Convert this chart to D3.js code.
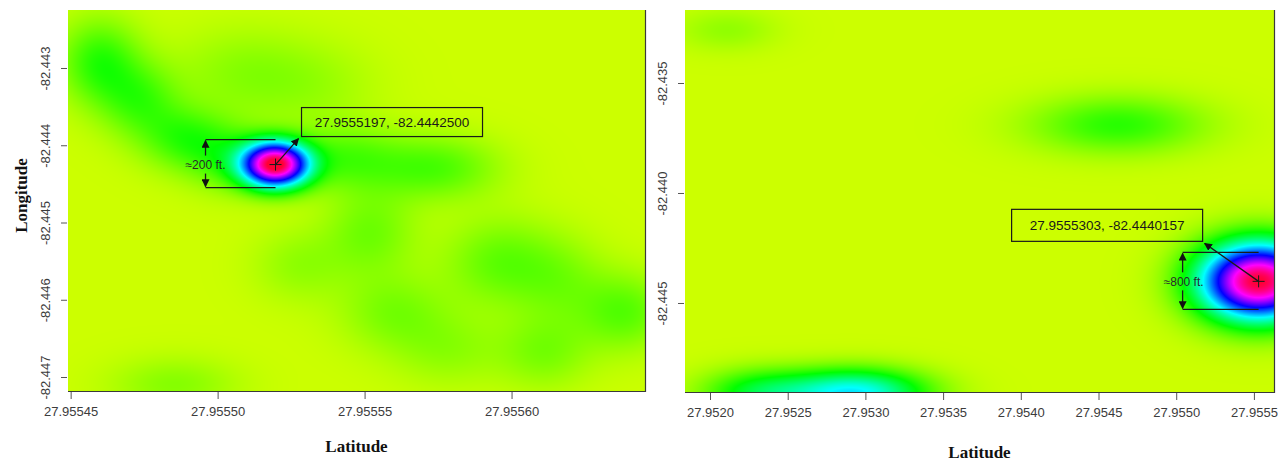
<!DOCTYPE html>
<html>
<head>
<meta charset="utf-8">
<style>
  body { margin: 0; background: #fff; }
  svg text { font-family: "Liberation Sans", Arial, sans-serif; }
  .tick text { fill: #3c3c3c; font-size: 13px; }
  .tick line { stroke: #555; }
  .title { font-family: "Liberation Serif", "Times New Roman", serif; font-weight: bold; font-size: 17px; fill: #111; }
  .note { font-size: 13.5px; fill: #1a1a1a; }
  .span { font-size: 12px; fill: #2a2a2a; }
</style>
</head>
<body>
<svg id="chart" width="1288" height="461"></svg>
<script src="https://cdn.jsdelivr.net/npm/d3@7"></script>
<script>
'use strict';

// ---- data ----
// hotspots: [latitude, longitude, weight, spread in latitude, spread in longitude]
var leftHotspots = [
  [27.9555197, -82.4442500, 1.00, 7.8e-6, 2.0e-4],
  [27.9554599, -82.4429223, 0.14, 9.5e-6, 3.8e-4],
  [27.9554735, -82.4434142, 0.11, 9.5e-6, 3.4e-4],
  [27.9554888, -82.4439062, 0.12, 1.05e-5, 2.9e-4],
  [27.9555041, -82.4441651, 0.11, 1.0e-5, 2.9e-4],
  [27.9555432, -82.4441651, 0.10, 1.3e-5, 2.9e-4],
  [27.9555738, -82.4442945, 0.11, 1.5e-5, 2.9e-4],
  [27.9555075, -82.4430518, 0.05, 1.6e-5, 4.0e-4],
  [27.9555313, -82.4432201, 0.04, 1.6e-5, 4.0e-4],
  [27.9555520, -82.4451230, 0.08, 1.1e-5, 4.0e-4],
  [27.9555279, -82.4455502, 0.05, 1.1e-5, 3.3e-4],
  [27.9555959, -82.4455113, 0.09, 1.3e-5, 4.0e-4],
  [27.9556163, -82.4457443, 0.06, 1.1e-5, 4.0e-4],
  [27.9556384, -82.4461586, 0.10, 1.1e-5, 3.5e-4],
  [27.9555602, -82.4461586, 0.07, 1.3e-5, 3.5e-4],
  [27.9555789, -82.4466505, 0.05, 1.3e-5, 3.3e-4],
  [27.9556112, -82.4466764, 0.07, 1.1e-5, 3.3e-4],
  [27.9554854, -82.4471036, 0.06, 1.5e-5, 2.5e-4]
];
var rightHotspots = [
  [27.9555303, -82.4440157, 1.00, 2.6e-4, 1.2e-3],
  [27.9546255, -82.4369091, 0.14, 3.86e-4, 9.1e-4],
  [27.9529331, -82.4490909, 0.40, 3.09e-4, 7.3e-4],
  [27.9523218, -82.4490909, 0.20, 2.57e-4, 7.3e-4],
  [27.9521094, -82.4325909, 0.05, 2.25e-4, 6.8e-4]
];

var leftLatRange = [27.9554491, 27.9556454];
var leftLonRange = [-82.4471812, -82.4422492];
var rightLatRange = [27.9518391, 27.9556293];
var rightLonRange = [-82.4490455, -82.4316818];

var leftLatTicks = [27.95545, 27.95550, 27.95555, 27.95560];
var leftLonTicks = [-82.443, -82.444, -82.445, -82.446, -82.447];
var rightLatTicks = [27.9520, 27.9525, 27.9530, 27.9535, 27.9540, 27.9545, 27.9550, 27.9555];
var rightLonTicks = [-82.435, -82.440, -82.445];

var leftPin = [27.9555197, -82.4442500];
var rightPin = [27.9555303, -82.4440157];
var spanLabels = ['\u2248200 ft.', '\u2248800 ft.'];

// ---- drawing ----
var svg = d3.select('#chart');
svg.append('rect').attr('width', 1288).attr('height', 461).attr('fill', '#fff');

var defs = svg.append('defs');
defs.append('marker')
    .attr('id', 'head').attr('viewBox', '0 0 10 10')
    .attr('refX', 9).attr('refY', 5)
    .attr('markerWidth', 8).attr('markerHeight', 8)
    .attr('markerUnits', 'userSpaceOnUse')
    .attr('orient', 'auto')
  .append('path').attr('d', 'M0,0 L10,5 L0,10 Z').attr('fill', '#111');

var hue = d3.scaleLinear().domain([0, 1]).range([72, 348]).clamp(true);

var panels = [
  { x0: 68, x1: 645, y0: 10, y1: 391, lat: leftLatRange, lon: leftLonRange,
    spots: leftHotspots, latTicks: leftLatTicks, lonTicks: leftLonTicks, latDigits: 5, lonDigits: 3,
    pin: leftPin, span: spanLabels[0], yTitle: 'Longitude', xTitleY: 452,
    box: [26, -57, 181, 29], arrowTo: [23, -26], bracket: [-70, -25, 23], spanText: [-70, 4] },
  { x0: 685, x1: 1274, y0: 10, y1: 392, lat: rightLatRange, lon: rightLonRange,
    spots: rightHotspots, latTicks: rightLatTicks, lonTicks: rightLonTicks, latDigits: 4, lonDigits: 3,
    pin: rightPin, span: spanLabels[1], yTitle: null, xTitleY: 458,
    box: [-247, -72, 191, 32], arrowTo: [-54, -38], bracket: [-76, -29, 28], spanText: [-75, 5] }
];

panels.forEach(function(p) {
  var x = d3.scaleLinear().domain(p.lat).range([p.x0, p.x1]);
  var y = d3.scaleLinear().domain(p.lon).range([p.y1, p.y0]);
  var w = p.x1 - p.x0, h = p.y1 - p.y0;

  // raster of the density field
  var canvas = document.createElement('canvas');
  canvas.width = w; canvas.height = h;
  var ctx = canvas.getContext('2d');
  var img = ctx.createImageData(w, h);
  for (var j = 0; j < h; j++) {
    var lon = y.invert(p.y0 + j + 0.5);
    for (var i = 0; i < w; i++) {
      var lat = x.invert(p.x0 + i + 0.5);
      var f = 0;
      p.spots.forEach(function(s) {
        var dx = (lat - s[0]) / s[3], dy = (lon - s[1]) / s[4];
        f += s[2] * Math.exp(-0.5 * (dx * dx + dy * dy));
      });
      var c = d3.rgb(d3.hsl(hue(f), 1, 0.5));
      var k = (j * w + i) * 4;
      img.data[k] = c.r; img.data[k + 1] = c.g; img.data[k + 2] = c.b; img.data[k + 3] = 255;
    }
  }
  ctx.putImageData(img, 0, 0);

  var g = svg.append('g');
  g.append('image').attr('x', p.x0).attr('y', p.y0).attr('width', w).attr('height', h)
    .attr('href', canvas.toDataURL());

  // frame (bottom and right)
  g.append('path')
    .attr('d', 'M' + p.x0 + ',' + (p.y1 + 0.5) + 'H' + (p.x1 + 0.5) + 'V' + p.y0)
    .attr('fill', 'none').attr('stroke', '#3a3a3a').attr('stroke-width', 1.2);

  // x axis
  var xa = g.append('g').attr('transform', 'translate(0,' + (p.y1 + 1) + ')')
    .call(d3.axisBottom(x).tickValues(p.latTicks)
      .tickFormat(function(d) { return d.toFixed(p.latDigits); })
      .tickSize(7).tickPadding(8));
  xa.select('.domain').remove();

  // y axis with rotated labels
  var ya = g.append('g').attr('transform', 'translate(' + (p.x0 - 1) + ',0)')
    .call(d3.axisLeft(y).tickValues(p.lonTicks)
      .tickFormat(function(d) { return d.toFixed(p.lonDigits); })
      .tickSize(6));
  ya.select('.domain').remove();
  ya.selectAll('.tick text')
    .attr('x', 0).attr('y', -17).attr('dy', 0)
    .attr('text-anchor', 'middle')
    .attr('transform', 'rotate(-90)');

  // axis titles
  g.append('text').attr('class', 'title')
    .attr('x', (p.x0 + p.x1) / 2).attr('y', p.xTitleY)
    .attr('text-anchor', 'middle').text('Latitude');
  if (p.yTitle) {
    g.append('text').attr('class', 'title')
      .attr('transform', 'translate(27,' + ((p.y0 + p.y1) / 2 - 5) + ') rotate(-90)')
      .attr('text-anchor', 'middle').text(p.yTitle);
  }

  // annotation
  var px = x(p.pin[0]), py = y(p.pin[1]);
  var a = g.append('g').attr('stroke', '#1a1a1a');
  a.append('path').attr('d', 'M' + (px - 6) + ',' + py + 'H' + (px + 6) + 'M' + px + ',' + (py - 6) + 'V' + (py + 6))
    .attr('stroke-width', 1);
  a.append('rect')
    .attr('x', px + p.box[0]).attr('y', py + p.box[1])
    .attr('width', p.box[2]).attr('height', p.box[3])
    .attr('fill', 'none').attr('stroke-width', 1.2);
  a.append('line')
    .attr('x1', px).attr('y1', py)
    .attr('x2', px + p.arrowTo[0]).attr('y2', py + p.arrowTo[1])
    .attr('stroke-width', 1.3).attr('marker-end', 'url(#head)');
  var bx = px + p.bracket[0], bt = py + p.bracket[1], bb = py + p.bracket[2];
  a.append('path').attr('d', 'M' + bx + ',' + bt + 'H' + px + 'M' + bx + ',' + bb + 'H' + px)
    .attr('stroke-width', 1.2);
  a.append('line').attr('x1', bx).attr('y1', py - 9).attr('x2', bx).attr('y2', bt + 1)
    .attr('stroke-width', 1.3).attr('marker-end', 'url(#head)');
  a.append('line').attr('x1', bx).attr('y1', py + 9).attr('x2', bx).attr('y2', bb - 1)
    .attr('stroke-width', 1.3).attr('marker-end', 'url(#head)');

  g.append('text').attr('class', 'note')
    .attr('x', px + p.box[0] + p.box[2] / 2).attr('y', py + p.box[1] + p.box[3] / 2 + 5)
    .attr('text-anchor', 'middle')
    .text(p.pin[0].toFixed(7) + ', ' + p.pin[1].toFixed(7));
  g.append('text').attr('class', 'span')
    .attr('x', px + p.spanText[0]).attr('y', py + p.spanText[1])
    .attr('text-anchor', 'middle').text(p.span);
});
</script>
</body>
</html>
